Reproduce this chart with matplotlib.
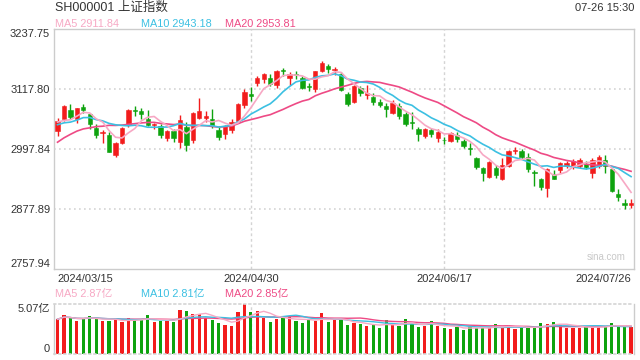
import numpy as np
import pandas as pd
import matplotlib
matplotlib.use("Agg")
import matplotlib.pyplot as plt

plt.rcParams['font.family'] = ['Liberation Sans', 'Noto Sans CJK SC', 'DejaVu Sans']

# ---------------- data ----------------
title = "SH000001 上证指数"
timestamp = "07-26 15:30"
date_labels = ["2024/03/15", "2024/04/30", "2024/06/17", "2024/07/26"]
date_label_idx = [0, 30, 60, 89]
price_ma_labels = ["MA5 2911.84", "MA10 2943.18", "MA20 2953.81"]
vol_ma_labels = ["MA5 2.87亿", "MA10 2.81亿", "MA20 2.85亿"]

# closes of the 19 sessions before the first shown candle (for the moving averages)
prior_closes = [2910.54, 2922.73, 2950.96, 2988.36, 3004.88, 2977.02, 3015.48, 2957.85,
                3015.17, 3027.02, 3047.79, 3047.82, 3039.93, 3027.40, 3046.02, 3068.46,
                3055.94, 3043.84, 3038.23]

opens = [3035, 3058, 3077, 3058, 3083, 3068, 3040, 3030, 3026, 2987,
         3011, 3046, 3076, 3075, 3058, 3046, 3044, 3020, 3034, 3013,
         3043, 3016, 3060, 3061, 3058, 3037, 3028, 3037, 3054, 3087,
         3108, 3131, 3138, 3141, 3127, 3156, 3140, 3148, 3141, 3125,
         3118, 3155, 3164, 3156, 3148, 3108, 3092, 3120, 3107, 3103,
         3092, 3084, 3071, 3084, 3068, 3053, 3039, 3024, 3036, 3020,
         3017, 3015, 3027, 3015, 3000, 2980, 2960, 2943, 2960, 2939,
         2964, 2994, 2994, 2983, 2952, 2939, 2920, 2948, 2956, 2964,
         2962, 2964, 2968, 2951, 2964, 2976, 2958, 2908, 2890, 2887]
highs = [3061, 3086, 3089, 3081, 3089, 3071, 3049, 3036, 3033, 3012,
         3043, 3078, 3085, 3081, 3077, 3051, 3049, 3036, 3038, 3066,
         3052, 3073, 3101, 3075, 3078, 3044, 3046, 3058, 3090, 3118,
         3122, 3144, 3150, 3148, 3156, 3161, 3153, 3154, 3144, 3130,
         3154, 3174, 3168, 3162, 3152, 3112, 3126, 3124, 3127, 3110,
         3098, 3090, 3096, 3090, 3072, 3072, 3042, 3040, 3040, 3038,
         3023, 3033, 3032, 3018, 3010, 2983, 2963, 2975, 2966, 2980,
         2996, 3003, 2999, 2990, 2956, 2941, 2961, 2956, 2972, 2975,
         2978, 2980, 2975, 2981, 2986, 2986, 2960, 2918, 2898, 2898]
lows = [3024, 3055, 3058, 3050, 3071, 3039, 3021, 3010, 2992, 2983,
        3008, 3043, 3064, 3058, 3044, 3039, 3020, 3014, 3012, 3000,
        2995, 3010, 3058, 3052, 3040, 3016, 3018, 3030, 3050, 3080,
        3095, 3125, 3130, 3125, 3120, 3145, 3126, 3138, 3118, 3114,
        3112, 3152, 3151, 3146, 3114, 3085, 3090, 3105, 3099, 3087,
        3083, 3062, 3068, 3058, 3044, 3038, 3014, 3020, 3022, 3012,
        3009, 3012, 3012, 3000, 2986, 2958, 2935, 2940, 2940, 2936,
        2962, 2988, 2978, 2952, 2925, 2916, 2903, 2938, 2950, 2960,
        2958, 2960, 2958, 2940, 2960, 2950, 2913, 2895, 2878, 2881]
closes = [3054.64, 3084.93, 3062.76, 3079.69, 3077.11, 3048.03, 3026.31, 3031.48, 2993.14, 3010.66,
          3041.17, 3077.38, 3074.96, 3069.30, 3047.05, 3048.54, 3027.34, 3034.25, 3019.47, 3057.38,
          3007.07, 3071.38, 3074.22, 3065.26, 3044.60, 3021.98, 3044.82, 3052.90, 3088.64, 3113.04,
          3104.82, 3140.72, 3147.74, 3128.48, 3154.32, 3154.55, 3148.02, 3145.77, 3119.90, 3122.40,
          3154.03, 3171.15, 3157.97, 3158.54, 3116.39, 3088.87, 3124.04, 3109.57, 3111.02, 3091.68,
          3086.81, 3078.49, 3091.20, 3065.40, 3048.79, 3051.28, 3028.05, 3037.47, 3028.92, 3032.63,
          3015.89, 3030.25, 3018.05, 3005.44, 2998.14, 2963.10, 2950.00, 2972.53, 2945.85, 2967.40,
          2994.73, 2997.01, 2982.38, 2957.57, 2949.93, 2922.45, 2959.37, 2939.36, 2970.39, 2971.30,
          2974.94, 2976.30, 2962.72, 2977.13, 2982.31, 2964.22, 2915.37, 2901.95, 2886.43, 2890.90]

# volume in 亿
volumes = [3.55, 3.99, 3.65, 3.38, 3.58, 3.89, 3.65, 3.38, 3.38, 3.48,
           3.28, 3.65, 3.48, 3.55, 3.99, 3.28, 3.38, 3.38, 3.28, 4.50,
           4.39, 4.09, 4.06, 3.72, 3.48, 3.21, 3.01, 2.87, 4.29, 5.07,
           4.33, 4.39, 3.72, 3.31, 3.58, 3.72, 3.82, 3.41, 3.21, 3.48,
           3.41, 4.23, 3.31, 3.48, 3.48, 2.97, 3.21, 3.08, 2.87, 2.97,
           2.70, 3.48, 2.97, 2.87, 3.58, 3.08, 2.77, 2.87, 3.38, 2.87,
           2.67, 2.57, 2.80, 2.47, 2.80, 2.67, 2.67, 2.67, 3.08, 2.74,
           2.95, 2.55, 2.75, 2.70, 2.70, 3.20, 3.05, 3.30, 3.00, 2.70,
           2.70, 2.70, 2.75, 2.85, 2.75, 2.80, 3.20, 2.85, 2.75, 2.75]

price_ticks = [2757.94, 2877.89, 2997.84, 3117.80, 3237.75]
vol_max = 5.07

# ---------------- style ----------------
RED = '#f21c1c'
GREEN = '#0ea30e'
C_MA5 = '#f7a8c4'
C_MA10 = '#3cc0e2'
C_MA20 = '#ee4a85'
GRID = '#d4d4d4'
BORDER = '#cccccc'
TXT = '#333333'

n = len(closes)
x = np.arange(n)
o = np.array(opens, float); c = np.array(closes, float)
h = np.array(highs, float); l = np.array(lows, float)
up = c >= o
cols = np.where(up, RED, GREEN)

allc = pd.Series(prior_closes + closes)
ma5 = allc.rolling(5).mean().values[len(prior_closes):]
ma10 = allc.rolling(10).mean().values[len(prior_closes):]
ma20 = allc.rolling(20).mean().values[len(prior_closes):]

vs = pd.Series(volumes)
vma5 = vs.rolling(5, min_periods=1).mean().values
vma10 = vs.rolling(10, min_periods=1).mean().values
vma20 = vs.rolling(20, min_periods=1).mean().values

W, H = 640, 360
fig = plt.figure(figsize=(6.4, 3.6), dpi=100)

def axrect(x0, y0, x1, y1):
    return [x0 / W, 1 - y1 / H, (x1 - x0) / W, (y1 - y0) / H]

ax = fig.add_axes(axrect(54.3, 29.3, 634.3, 269.3))
axv = fig.add_axes(axrect(54.3, 304.3, 634.3, 354.3))

# ---------------- main panel ----------------
ax.set_xlim(-0.5, n - 0.5)
ax.set_ylim(price_ticks[0], price_ticks[-1])
for t in price_ticks[1:-1]:
    ax.axhline(t, color=GRID, lw=1.2, ls=(0, (1, 2)), zorder=0)
for i in date_label_idx[1:3]:
    ax.axvline(i, color=GRID, lw=1.0, ls=(0, (2, 2)), zorder=0)
    axv.axvline(i, color=GRID, lw=1.0, ls=(0, (2, 2)), zorder=0)

ax.vlines(x, l, h, colors=cols, lw=1.0, zorder=2)
body_h = np.maximum(np.abs(c - o), 0.6)
ax.bar(x, body_h, bottom=np.minimum(o, c), width=0.68, color=cols,
       edgecolor=cols, linewidth=0.4, zorder=3)

ax.plot(x, ma20, color=C_MA20, lw=1.2, zorder=4)
ax.plot(x, ma10, color=C_MA10, lw=1.2, zorder=4)
ax.plot(x, ma5, color=C_MA5, lw=1.2, zorder=4)

for s in ax.spines.values():
    s.set_color(BORDER); s.set_linewidth(1.0)
ax.set_yticks(price_ticks)
ax.set_yticklabels([f"{t:.2f}" for t in price_ticks])
ax.tick_params(axis='y', length=0, pad=3, labelsize=8, labelcolor=TXT)
yl = ax.get_yticklabels()
yl[0].set_va('bottom'); yl[-1].set_va('top')
ax.set_xticks(date_label_idx)
ax.set_xticklabels(date_labels)
ax.tick_params(axis='x', length=0, pad=3.5, labelsize=8, labelcolor=TXT)
xl = ax.get_xticklabels()
xl[0].set_ha('left'); xl[-1].set_ha('right')
ax.text(0.985, 0.03, "sina.com", transform=ax.transAxes, ha='right', va='bottom',
        fontsize=7, color='#c8c8c8')

# ---------------- volume panel ----------------
axv.set_xlim(-0.5, n - 0.5)
axv.set_ylim(0, vol_max)
axv.bar(x, volumes, width=0.5, color=cols, zorder=2)
axv.plot(x, vma20, color=C_MA20, lw=1.0, zorder=3)
axv.plot(x, vma10, color=C_MA10, lw=1.0, zorder=3)
axv.plot(x, vma5, color=C_MA5, lw=1.0, zorder=3)
for k in ['left', 'right']:
    axv.spines[k].set_color(BORDER); axv.spines[k].set_linewidth(1.0)
for k in ['top', 'bottom']:
    axv.spines[k].set_color(GRID); axv.spines[k].set_linewidth(1.2)
    axv.spines[k].set_linestyle((0, (1, 2)))
axv.set_xticks([])
axv.set_yticks([0, vol_max])
axv.set_yticklabels(["0", f"{vol_max:.2f}亿"])
axv.tick_params(axis='y', length=0, pad=3, labelsize=8, labelcolor=TXT)
vl = axv.get_yticklabels()
vl[0].set_va('bottom'); vl[1].set_va('top')

# ---------------- header texts ----------------
def ftext(px, py, s, **kw):
    fig.text(px / W, 1 - py / H, s, **kw)

ftext(55, 8, title, fontsize=9, color=TXT, va='center', ha='left')
ftext(634, 8, timestamp, fontsize=8, color=TXT, va='center', ha='right')
for px, s, col in zip([55, 141, 225], price_ma_labels, [C_MA5, C_MA10, C_MA20]):
    ftext(px, 24, s, fontsize=7.8, color=col, va='center')
for px, s, col in zip([55, 141, 225], vol_ma_labels, [C_MA5, C_MA10, C_MA20]):
    ftext(px, 294, s, fontsize=7.8, color=col, va='center')

fig.savefig("out.png", dpi=100)
